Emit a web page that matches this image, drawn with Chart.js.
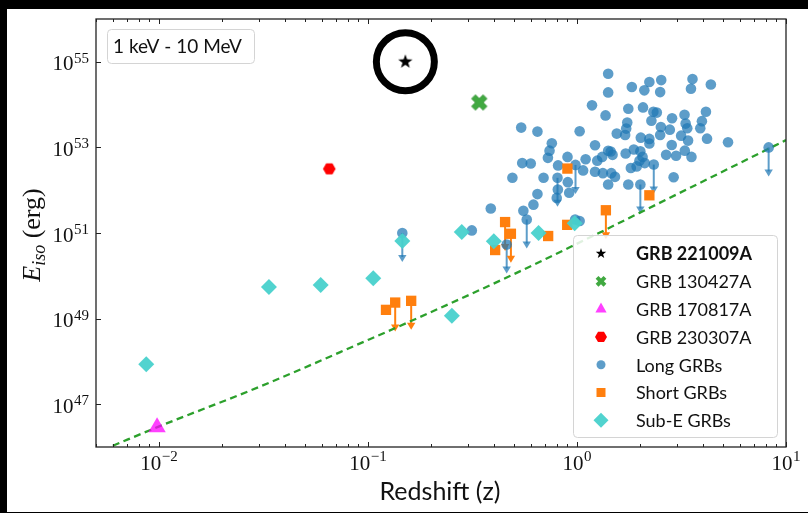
<!DOCTYPE html>
<html>
<head>
<meta charset="utf-8">
<script src="https://cdn.jsdelivr.net/npm/chart.js@4.4.0/dist/chart.umd.min.js"></script>
<style>
  html, body { margin: 0; padding: 0; background: #000; }
  #panel { position: absolute; left: 7px; top: 9px; width: 801px; height: 503px; background: #fff; }
  #wrap { position: absolute; left: 0; top: 0; width: 808px; height: 513px; }
</style>
</head>
<body>
<div id="panel"></div>
<div id="wrap"><canvas id="chart" width="808" height="513"></canvas></div>
<script>
// Long GRBs (blue circles). longUL = 1 marks an upper limit (down arrow).
const longZ = [1.41, 1.83, 2.22, 2.53, 3.57, 4.37, 1.41, 2.10, 2.50, 3.51,
  1.18, 1.76, 2.07, 1.37, 2.32, 2.41, 3.27, 4.14, 2.85, 2.27,
  1.74, 3.96, 3.31, 3.37, 3.89, 0.541, 0.647, 1.03, 1.55, 1.72,
  1.70, 2.52, 2.78, 3.15, 2.02, 2.22, 2.22, 2.50, 3.40, 4.19,
  5.28, 0.758, 0.739, 0.726, 0.901, 1.22, 1.10, 1.25, 1.32, 1.41,
  1.45, 1.48, 1.71, 1.87, 2.84, 2.67, 2.98, 3.28, 3.53, 2.01,
  2.06, 1.99, 1.93, 2.11, 2.33, 0.547, 0.601, 0.812, 0.984, 1.07,
  1.22, 1.33, 1.46, 1.52, 1.81, 2.90, 1.41, 1.76, 2.01, 0.491,
  0.692, 0.807, 0.904, 0.81, 0.918, 0.647, 0.619, 0.554, 0.575, 0.387,
  0.98, 1.03, 8.26, 0.80, 0.146, 0.461, 0.314];
const longE = [5.25e54, 2.57e54, 3.36e54, 3.74e54, 3.94e54, 2.96e54, 1.93e54, 2.15e54, 1.96e54, 2.35e54,
  9.6e53, 8.0e53, 8.6e53, 5.6e53, 6.8e53, 6.5e53, 5.8e53, 6.8e53, 4.8e53, 4.2e53,
  3.8e53, 4.1e53, 3.6e53, 2.8e53, 2.8e53, 2.9e53, 2.34e53, 2.38e53, 2.1e53, 2.75e53,
  1.95e53, 3.0e53, 2.6e53, 1.88e53, 1.69e53, 1.58e53, 1.23e53, 1.95e53, 1.44e53, 1.6e53,
  1.32e53, 1.25e53, 8.4e52, 5.7e52, 6.0e52, 1.12e53, 5.3e52, 4.9e52, 6.0e52, 8.3e52,
  8.0e52, 6.7e52, 7.2e52, 8.9e52, 1.14e53, 6.7e52, 6.4e52, 8.4e52, 6.0e52, 8.1e52,
  6.0e52, 4.9e52, 3.6e52, 4.3e52, 3.97e52, 4.3e52, 4.2e52, 3.8e52, 3.9e52, 2.9e52,
  2.7e52, 2.5e52, 2.5e52, 2.05e52, 3.3e52, 2.0e52, 1.36e52, 1.36e52, 1.36e52, 1.95e52,
  1.95e52, 1.95e52, 1.54e52, 1.04e52, 8.7e51, 8.1e51, 4.6e51, 3.3e51, 2.07e51, 3.75e51,
  2.07e51, 1.9e51, 1.0e53, 6.6e51, 1.0e51, 5.4e50, 1.15e51];
const longUL = [0, 0, 0, 0, 0, 0, 0, 0, 0, 0,
  0, 0, 0, 0, 0, 0, 0, 0, 0, 0,
  0, 0, 0, 0, 0, 0, 0, 0, 0, 0,
  0, 0, 0, 0, 0, 0, 0, 0, 0, 0,
  0, 0, 0, 0, 0, 0, 0, 0, 0, 0,
  0, 0, 0, 0, 0, 0, 0, 0, 0, 0,
  0, 0, 0, 0, 1, 0, 0, 0, 1, 0,
  0, 0, 0, 0, 0, 0, 0, 0, 1, 0,
  0, 1, 0, 0, 0, 0, 0, 0, 1, 0,
  0, 0, 1, 0, 1, 1, 0];

// Short GRBs (orange squares)
const shortZ = [0.122, 0.135, 0.161, 0.406, 0.453, 0.483, 0.728, 0.898, 0.90, 1.375, 2.22];
const shortE = [1.6e49, 2.37e49, 2.6e49, 4.0e50, 1.8e51, 9.6e50, 8.5e50, 1.55e51, 3.2e52, 3.4e51, 7.6e51];
const shortUL = [0, 1, 1, 0, 1, 1, 0, 0, 0, 1, 0];

// Sub-energetic GRBs (turquoise diamonds)
const subZ = [0.0087, 0.0336, 0.0594, 0.106, 0.146, 0.252, 0.281, 0.400, 0.655, 0.975];
const subE = [8.6e47, 5.5e49, 6.1e49, 8.75e49, 6.5e50, 1.16e49, 1.05e51, 6.4e50, 1.0e51, 1.7e51];

// Individual bursts
const grb221009Z = [0.151], grb221009E = [1.0e55];
const grb130427Z = [0.341], grb130427E = [1.12e54];
const grb170817Z = [0.0098], grb170817E = [2.9e46];
const grb230307Z = [0.0653], grb230307E = [3.15e52];

// Detection threshold (dashed green line)
const limitZ = [0.00602, 0.0099, 0.0304, 0.102, 0.137, 0.461, 0.945, 1.99, 10.0];
const limitE = [1.07e46, 2.95e46, 2.57e47, 3.3e48, 6.2e48, 9.1e49, 4.9e50, 2.95e51, 1.48e53];

// Axis ticks
const xMajor = [0.01, 0.1, 1, 10];
const xMajorExp = ['\u22122', '\u22121', '0', '1'];
const yMajor = [1e47, 1e49, 1e51, 1e53, 1e55];
const yMajorExp = ['47', '49', '51', '53', '55'];

const legendLabels = ['GRB 221009A', 'GRB 130427A', 'GRB 170817A', 'GRB 230307A', 'Long GRBs', 'Short GRBs', 'Sub-E GRBs'];
const bandLabel = '1 keV - 10 MeV';
const xTitle = 'Redshift (z)';

const BLUE = 'rgba(31,119,180,0.72)';
const ORANGE = '#ff7f0e';
const TURQ = 'rgba(72,209,204,0.95)';
const GREEN = '#2ca02c';
const MAGENTA = 'rgba(255,0,255,0.75)';
const RED = '#ff0000';
const UL_DROP = 0.21; // arrow length as a factor in E

// Small canvases used as custom point styles.
function makeMarker(size, draw) {
  const c = document.createElement('canvas');
  c.width = c.height = size;
  const g = c.getContext('2d');
  g.translate(size / 2, size / 2);
  draw(g);
  return c;
}
function starPath(g, ro, ri) {
  g.beginPath();
  for (let i = 0; i < 10; i++) {
    const r = i % 2 ? ri : ro;
    const a = -Math.PI / 2 + i * Math.PI / 5;
    g.lineTo(r * Math.cos(a), r * Math.sin(a));
  }
  g.closePath();
}
function xPath(g, L, w) {
  const pts = [[-w, -L], [w, -L], [w, -w], [L, -w], [L, w], [w, w], [w, L], [-w, L], [-w, w], [-L, w], [-L, -w], [-w, -w]];
  const c = Math.SQRT1_2;
  g.beginPath();
  pts.forEach(([px, py]) => g.lineTo(c * (px - py), c * (px + py)));
  g.closePath();
}
function hexPath(g, r) {
  g.beginPath();
  for (let i = 0; i < 6; i++) {
    const a = i * Math.PI / 3;
    g.lineTo(r * Math.cos(a), r * Math.sin(a));
  }
  g.closePath();
}
const starImg = makeMarker(20, g => { starPath(g, 7.5, 3); g.fillStyle = '#000'; g.fill(); });
const xImg = makeMarker(22, g => { xPath(g, 8.2, 2.8); g.fillStyle = 'rgba(44,160,44,0.9)'; g.fill(); g.strokeStyle = 'rgba(30,130,30,0.6)'; g.lineWidth = 1; g.stroke(); });
const hexImg = makeMarker(16, g => { hexPath(g, 6.3); g.fillStyle = RED; g.fill(); });

const toPts = (zs, es) => zs.map((z, i) => ({ x: z, y: es[i] }));

// Upper-limit arrows, drawn under the markers.
const ulimArrows = {
  id: 'ulimArrows',
  beforeDatasetsDraw(chart) {
    const { ctx, chartArea: a, scales: { x, y } } = chart;
    ctx.save();
    ctx.beginPath();
    ctx.rect(a.left, a.top, a.right - a.left, a.bottom - a.top);
    ctx.clip();
    const draw = (zs, es, flags, color) => {
      zs.forEach((z, i) => {
        if (!flags[i]) return;
        const px = x.getPixelForValue(z);
        const py = y.getPixelForValue(es[i]);
        const ty = y.getPixelForValue(es[i] * UL_DROP);
        ctx.strokeStyle = color;
        ctx.fillStyle = color;
        ctx.lineWidth = 2;
        ctx.beginPath();
        ctx.moveTo(px, py);
        ctx.lineTo(px, ty - 5);
        ctx.stroke();
        ctx.beginPath();
        ctx.moveTo(px - 4.2, ty - 7);
        ctx.lineTo(px + 4.2, ty - 7);
        ctx.lineTo(px, ty);
        ctx.closePath();
        ctx.fill();
      });
    };
    draw(longZ, longE, longUL, BLUE);
    draw(shortZ, shortE, shortUL, ORANGE);
    ctx.restore();
  }
};

function roundBox(ctx, x, y, w, h, r) {
  ctx.beginPath();
  ctx.moveTo(x + r, y);
  ctx.arcTo(x + w, y, x + w, y + h, r);
  ctx.arcTo(x + w, y + h, x, y + h, r);
  ctx.arcTo(x, y + h, x, y, r);
  ctx.arcTo(x, y, x + w, y, r);
  ctx.closePath();
}

// Legend and energy band box inside the axes.
const insideBoxes = {
  id: 'insideBoxes',
  afterDatasetsDraw(chart) {
    const ctx = chart.ctx;
    ctx.save();
    // energy band
    roundBox(ctx, 107.5, 29.5, 147, 34, 4);
    ctx.fillStyle = 'rgba(255,255,255,0.85)';
    ctx.fill();
    ctx.strokeStyle = '#d4d4d4';
    ctx.lineWidth = 1;
    ctx.stroke();
    ctx.fillStyle = '#111';
    ctx.font = '19px Lato';
    ctx.textBaseline = 'alphabetic';
    ctx.fillText(bandLabel, 113, 52.5);

    // legend
    roundBox(ctx, 573.5, 235.5, 204, 202, 4);
    ctx.fillStyle = 'rgba(255,255,255,0.85)';
    ctx.fill();
    ctx.strokeStyle = '#d4d4d4';
    ctx.stroke();
    const mx = 601, tx = 636;
    legendLabels.forEach((lab, i) => {
      const cy = 253.5 + i * 27.8;
      ctx.save();
      ctx.translate(mx, cy);
      ctx.beginPath();
      if (i === 0) { starPath(ctx, 5.5, 2.2); ctx.fillStyle = '#000'; ctx.fill(); }
      if (i === 1) { xPath(ctx, 5.6, 2.0); ctx.fillStyle = 'rgba(44,160,44,0.9)'; ctx.fill(); }
      if (i === 2) {
        ctx.moveTo(0, -6.5); ctx.lineTo(5.6, 3.3); ctx.lineTo(-5.6, 3.3); ctx.closePath();
        ctx.fillStyle = MAGENTA; ctx.fill();
      }
      if (i === 3) { hexPath(ctx, 6); ctx.fillStyle = RED; ctx.fill(); }
      if (i === 4) { ctx.arc(0, 0, 4.5, 0, Math.PI * 2); ctx.fillStyle = BLUE; ctx.fill(); }
      if (i === 5) { ctx.rect(-4.5, -4.5, 9, 9); ctx.fillStyle = ORANGE; ctx.fill(); }
      if (i === 6) {
        ctx.moveTo(0, -7.5); ctx.lineTo(7.5, 0); ctx.lineTo(0, 7.5); ctx.lineTo(-7.5, 0); ctx.closePath();
        ctx.fillStyle = TURQ; ctx.fill();
      }
      ctx.restore();
      ctx.fillStyle = '#111';
      ctx.font = (i === 0 ? 'bold ' : '') + '18px Lato';
      ctx.textBaseline = 'middle';
      ctx.fillText(lab, tx, cy + 1);
    });
    ctx.restore();
  }
};

// Spines, inward ticks, power-of-ten labels and axis titles.
const frame = {
  id: 'frame',
  afterDraw(chart) {
    const { ctx, chartArea: a, scales: { x, y } } = chart;
    ctx.save();
    ctx.strokeStyle = '#222';
    ctx.lineWidth = 1.3;
    ctx.strokeRect(a.left, a.top, a.right - a.left, a.bottom - a.top);

    ctx.lineWidth = 1;
    ctx.beginPath();
    for (let d = -3; d <= 1; d++) {
      for (let m = 1; m <= 9; m++) {
        const v = m * Math.pow(10, d);
        if (v < x.min || v > x.max) continue;
        const px = Math.round(x.getPixelForValue(v)) + 0.5;
        const len = m === 1 ? 5 : 3;
        ctx.moveTo(px, a.bottom); ctx.lineTo(px, a.bottom - len);
        ctx.moveTo(px, a.top); ctx.lineTo(px, a.top + len);
      }
    }
    yMajor.forEach(v => {
      const py = Math.round(y.getPixelForValue(v)) + 0.5;
      ctx.moveTo(a.left, py); ctx.lineTo(a.left + 5, py);
    });
    ctx.stroke();

    ctx.fillStyle = '#111';
    ctx.textAlign = 'left';
    ctx.textBaseline = 'alphabetic';
    const baseFont = '21px "Liberation Serif"';
    const expFont = '15px "Liberation Serif"';
    ctx.font = baseFont;
    const wb = ctx.measureText('10').width;

    yMajor.forEach((v, i) => {
      const py = y.getPixelForValue(v);
      ctx.font = expFont;
      const we = ctx.measureText(yMajorExp[i]).width;
      ctx.fillText(yMajorExp[i], 89 - we, py + 1);
      ctx.font = baseFont;
      ctx.fillText('10', 89 - we - wb - 0.5, py + 8.5);
    });
    xMajor.forEach((v, i) => {
      const px = x.getPixelForValue(v);
      ctx.font = expFont;
      const we = ctx.measureText(xMajorExp[i]).width;
      const x0 = px - (wb + we + 0.5) / 2;
      ctx.font = baseFont;
      ctx.fillText('10', x0, 470);
      ctx.font = expFont;
      ctx.fillText(xMajorExp[i], x0 + wb + 0.5, 461);
    });

    // x title
    ctx.font = '25px Lato';
    ctx.textAlign = 'center';
    ctx.fillText(xTitle, (a.left + a.right) / 2 - 1, 500);

    // y title: E_iso (erg)
    ctx.translate(40, (a.top + a.bottom) / 2 + 2);
    ctx.rotate(-Math.PI / 2);
    ctx.textAlign = 'left';
    const parts = [
      { t: 'E', f: 'italic 26px "Liberation Serif"', dy: 0 },
      { t: 'iso', f: 'italic 18px "Liberation Serif"', dy: 5 },
      { t: ' (erg)', f: '26px "Liberation Serif"', dy: 0 }
    ];
    let total = 0;
    parts.forEach(p => { ctx.font = p.f; p.w = ctx.measureText(p.t).width; total += p.w; });
    let cx = -total / 2;
    parts.forEach(p => { ctx.font = p.f; ctx.fillText(p.t, cx, p.dy); cx += p.w; });
    ctx.restore();
  }
};

const noFit = { display: false };
new Chart(document.getElementById('chart'), {
  type: 'scatter',
  data: {
    datasets: [
      { label: 'ring', data: toPts(grb221009Z, grb221009E), pointStyle: 'circle', pointRadius: 29,
        borderWidth: 7, borderColor: '#000', backgroundColor: 'rgba(0,0,0,0)', order: 0 },
      { label: legendLabels[0], data: toPts(grb221009Z, grb221009E), pointStyle: starImg, pointRadius: 8, order: 1 },
      { label: legendLabels[1], data: toPts(grb130427Z, grb130427E), pointStyle: xImg, pointRadius: 8, order: 2 },
      { label: legendLabels[2], data: toPts(grb170817Z, grb170817E), pointStyle: 'triangle', pointRadius: 10,
        backgroundColor: MAGENTA, borderWidth: 0, order: 3 },
      { label: legendLabels[3], data: toPts(grb230307Z, grb230307E), pointStyle: hexImg, pointRadius: 6, order: 4 },
      { label: legendLabels[6], data: toPts(subZ, subE), pointStyle: 'rectRot', pointRadius: 8,
        backgroundColor: TURQ, borderWidth: 0, order: 5 },
      { label: legendLabels[5], data: toPts(shortZ, shortE), pointStyle: 'rect', pointRadius: 7.3,
        backgroundColor: ORANGE, borderWidth: 0, order: 6 },
      { label: legendLabels[4], data: toPts(longZ, longE), pointStyle: 'circle', pointRadius: 5.3,
        backgroundColor: BLUE, borderWidth: 0, order: 7 },
      { label: 'limit', data: toPts(limitZ, limitE), showLine: true, pointRadius: 0, borderColor: GREEN,
        borderWidth: 2.3, borderDash: [7, 4.5], fill: false, cubicInterpolationMode: 'monotone', order: 8 }
    ]
  },
  options: {
    responsive: false,
    animation: false,
    events: [],
    layout: { autoPadding: false, padding: { left: 0, right: 22, top: 19, bottom: 0 } },
    plugins: { legend: { display: false }, tooltip: { enabled: false } },
    scales: {
      x: {
        type: 'logarithmic', min: 0.005, max: 10,
        ticks: noFit, grid: noFit, border: noFit,
        afterFit: s => { s.height = 66; }
      },
      y: {
        type: 'logarithmic', min: 1e46, max: 1e56,
        ticks: noFit, grid: noFit, border: noFit,
        afterFit: s => { s.width = 96; }
      }
    }
  },
  plugins: [ulimArrows, insideBoxes, frame]
});
</script>
</body>
</html>
